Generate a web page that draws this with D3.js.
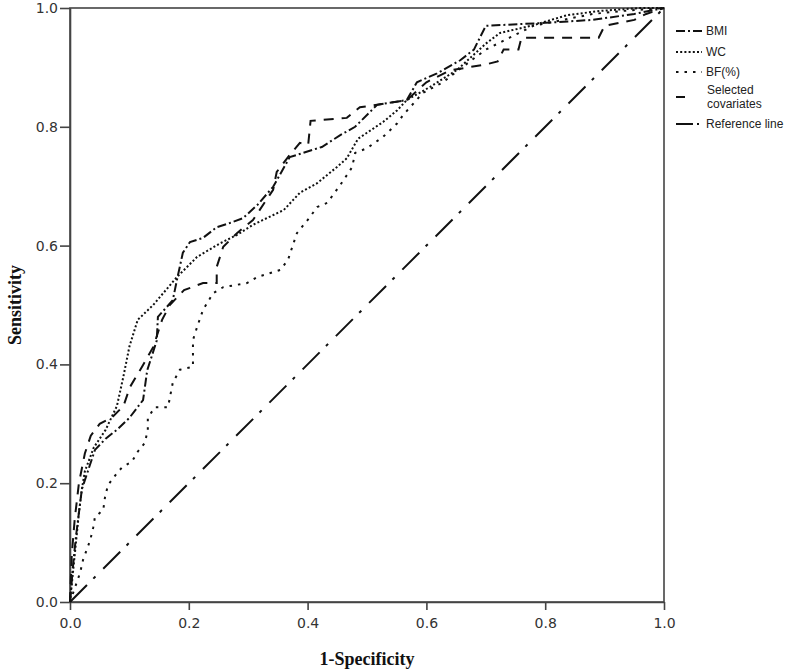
<!DOCTYPE html>
<html>
<head>
<meta charset="utf-8">
<script src="https://cdn.jsdelivr.net/npm/d3@7"></script>
<style>
  body { margin: 0; background: #fff; }
  svg { display: block; }
</style>
</head>
<body>
<svg width="800" height="671"></svg>
<script>
// ROC curves, points as [1-specificity, sensitivity]
var bmi = [[0,0],[0.005,0.06],[0.01,0.11],[0.015,0.15],[0.02,0.19],[0.03,0.22],[0.042,0.256],[0.06,0.275],[0.079,0.29],[0.10,0.31],[0.123,0.34],[0.13,0.39],[0.146,0.44],[0.148,0.48],[0.173,0.508],[0.18,0.542],[0.19,0.588],[0.202,0.606],[0.224,0.613],[0.247,0.631],[0.269,0.638],[0.291,0.646],[0.315,0.668],[0.342,0.699],[0.37,0.749],[0.424,0.766],[0.455,0.786],[0.48,0.80],[0.517,0.837],[0.567,0.845],[0.584,0.875],[0.618,0.89],[0.657,0.912],[0.68,0.93],[0.70,0.97],[0.80,0.975],[0.88,0.98],[0.95,0.99],[1,1]];
var wc = [[0,0],[0.005,0.05],[0.01,0.10],[0.015,0.15],[0.02,0.19],[0.025,0.22],[0.04,0.26],[0.06,0.29],[0.079,0.33],[0.09,0.38],[0.10,0.43],[0.114,0.475],[0.14,0.50],[0.18,0.547],[0.214,0.581],[0.253,0.604],[0.281,0.618],[0.308,0.635],[0.36,0.66],[0.387,0.689],[0.416,0.705],[0.449,0.732],[0.466,0.747],[0.485,0.78],[0.50,0.79],[0.527,0.808],[0.551,0.828],[0.567,0.845],[0.606,0.867],[0.652,0.896],[0.70,0.94],[0.724,0.958],[0.78,0.971],[0.837,0.988],[0.892,0.995],[0.96,1],[1,1]];
var bf = [[0,0],[0.011,0.032],[0.017,0.049],[0.022,0.071],[0.034,0.104],[0.039,0.125],[0.042,0.143],[0.056,0.155],[0.059,0.177],[0.064,0.197],[0.079,0.217],[0.088,0.227],[0.104,0.236],[0.114,0.253],[0.126,0.268],[0.131,0.29],[0.131,0.31],[0.143,0.328],[0.165,0.328],[0.173,0.369],[0.185,0.391],[0.207,0.396],[0.207,0.441],[0.214,0.463],[0.224,0.492],[0.241,0.52],[0.258,0.53],[0.298,0.537],[0.315,0.547],[0.354,0.559],[0.367,0.576],[0.382,0.621],[0.404,0.648],[0.416,0.665],[0.433,0.672],[0.455,0.702],[0.475,0.732],[0.48,0.756],[0.50,0.764],[0.527,0.783],[0.551,0.806],[0.561,0.82],[0.594,0.857],[0.628,0.875],[0.66,0.90],[0.70,0.93],[0.74,0.95],[0.78,0.97],[0.83,0.98],[0.88,0.99],[0.93,0.995],[1,1]];
var selected = [[0,0],[0.003,0.08],[0.008,0.14],[0.015,0.2],[0.025,0.25],[0.035,0.28],[0.05,0.3],[0.07,0.31],[0.09,0.33],[0.101,0.362],[0.123,0.399],[0.14,0.429],[0.155,0.475],[0.168,0.50],[0.192,0.525],[0.224,0.537],[0.247,0.537],[0.247,0.564],[0.258,0.598],[0.281,0.621],[0.308,0.643],[0.342,0.694],[0.348,0.724],[0.367,0.749],[0.387,0.773],[0.401,0.77],[0.405,0.81],[0.466,0.815],[0.488,0.833],[0.517,0.837],[0.567,0.845],[0.60,0.875],[0.64,0.895],[0.70,0.905],[0.72,0.91],[0.73,0.93],[0.755,0.93],[0.76,0.95],[0.89,0.95],[0.90,0.97],[0.95,0.98],[0.97,0.99],[1,1]];
var reference = [[0,0],[1,1]];

var ticks = [0, 0.2, 0.4, 0.6, 0.8, 1.0];
var legendNames = ['BMI', 'WC', 'BF(%)', 'Selected covariates', 'Reference line'];

var margin = {top: 8, left: 70, right: 136, bottom: 69};
var width = 800 - margin.left - margin.right;
var height = 671 - margin.top - margin.bottom;

var svg = d3.select('svg');
var g = svg.append('g').attr('transform', 'translate(' + [margin.left, margin.top] + ')');

var x = d3.scaleLinear().domain([0, 1]).range([0, width]);
var y = d3.scaleLinear().domain([0, 1]).range([height, 0]);

var axisColor = '#444';

// frame
g.append('rect')
  .attr('width', width).attr('height', height)
  .attr('fill', 'none').attr('stroke', axisColor).attr('stroke-width', 1.6);

var xAxis = d3.axisBottom(x).tickValues(ticks).tickFormat(d3.format('.1f')).tickSize(8).tickSizeOuter(0);
var yAxis = d3.axisLeft(y).tickValues(ticks).tickFormat(d3.format('.1f')).tickSize(10).tickSizeOuter(0);

var gx = g.append('g').attr('transform', 'translate(0,' + height + ')').call(xAxis);
var gy = g.append('g').call(yAxis);
[gx, gy].forEach(function(a) {
  a.select('.domain').attr('stroke', axisColor).attr('stroke-width', 1.6);
  a.selectAll('.tick line').attr('stroke', axisColor).attr('stroke-width', 1.6);
  a.selectAll('text').attr('fill', '#333').style('font-family', 'DejaVu Sans, sans-serif').style('font-size', '14px');
});
gx.selectAll('text').attr('dy', '1.05em');
gy.selectAll('text').attr('x', -12);

var line = d3.line().x(d => x(d[0])).y(d => y(d[1]));

var styles = [
  {data: bmi, dash: '9,3,2,3'},
  {data: wc, dash: '2,2.2'},
  {data: bf, dash: '2.5,6'},
  {data: selected, dash: '10,8'},
  {data: reference, dash: '24,9,3,11'}
];

g.selectAll('path.roc')
  .data(styles)
  .enter().append('path')
  .attr('class', 'roc')
  .attr('d', d => line(d.data))
  .attr('fill', 'none')
  .attr('stroke', '#111')
  .attr('stroke-width', 2)
  .attr('stroke-dasharray', d => d.dash);

// axis titles
svg.append('text')
  .attr('x', margin.left + width / 2).attr('y', 665)
  .attr('text-anchor', 'middle')
  .style('font-family', 'Liberation Serif, serif').style('font-weight', 'bold').style('font-size', '18px')
  .attr('fill', '#111')
  .text('1-Specificity');

svg.append('text')
  .attr('transform', 'translate(21,' + (margin.top + height / 2) + ') rotate(-90)')
  .attr('text-anchor', 'middle')
  .style('font-family', 'Liberation Serif, serif').style('font-weight', 'bold').style('font-size', '18px')
  .attr('fill', '#111')
  .text('Sensitivity');

// legend
var legendY = [31, 52, 72, 97, 124];
var legend = svg.append('g').attr('transform', 'translate(676,0)');
legendNames.forEach(function(name, i) {
  var row = legend.append('g').attr('transform', 'translate(0,' + legendY[i] + ')');
  row.append('line')
    .attr('x1', 0).attr('x2', 26).attr('y1', 0).attr('y2', 0)
    .attr('stroke', '#111').attr('stroke-width', 2)
    .attr('stroke-dasharray', i === 4 ? '17,4,2,4' : i === 3 ? '9,30' : styles[i].dash);
  var t = row.append('text')
    .attr('x', 30).attr('y', 4)
    .style('font-family', 'Liberation Sans, Arial, sans-serif').style('font-size', '12px')
    .attr('fill', '#222');
  if (name === 'Selected covariates') {
    t.append('tspan').attr('x', 31).attr('dy', -7).text('Selected');
    t.append('tspan').attr('x', 31).attr('dy', 14).text('covariates');
  } else {
    t.text(name);
  }
});
</script>
</body>
</html>
